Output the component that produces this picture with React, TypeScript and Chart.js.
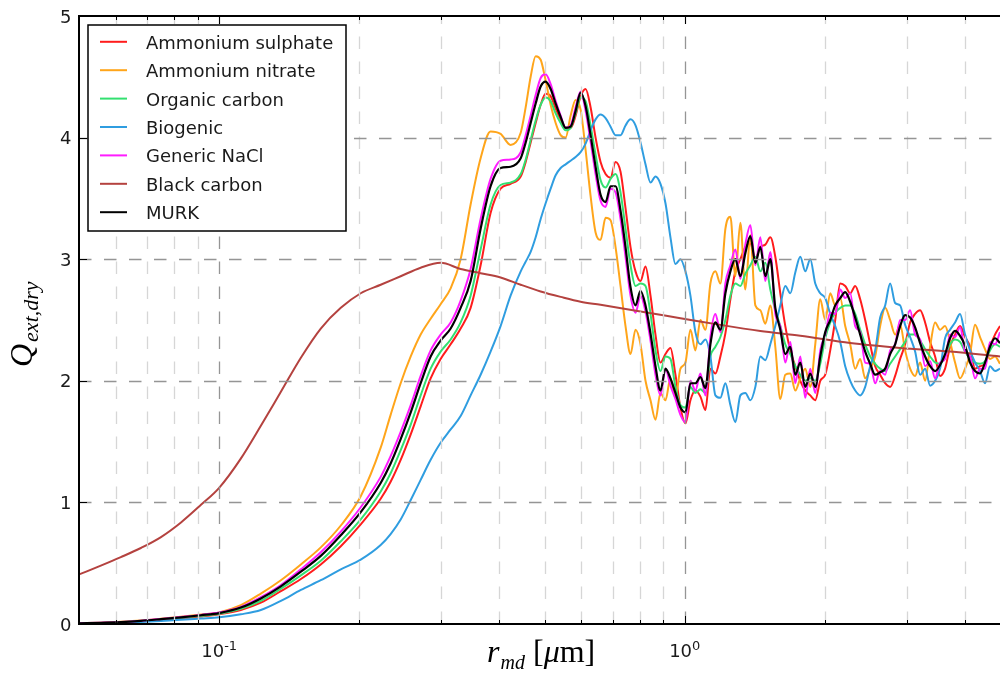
import React, { useEffect, useRef } from 'react';
import { Chart, registerables } from 'chart.js';

Chart.register(...registerables);

// radius grid (micrometres) shared by the aerosol curves
const radius = [
  0.0502, 0.0557, 0.0615, 0.0679, 0.075, 0.0828, 0.0914, 0.1,
  0.1113, 0.1229, 0.1357, 0.1498, 0.1653, 0.1825, 0.2014, 0.2223,
  0.2335, 0.2454, 0.2579, 0.2709, 0.2846, 0.299, 0.3142, 0.3301, 0.3468, 0.3644, 0.3828, 0.4022, 0.4226, 0.4443,
  0.4554, 0.4667, 0.4784, 0.4904, 0.5026, 0.5152, 0.5281, 0.5413, 0.5548, 0.5687, 0.5829, 0.5975, 0.6124, 0.6277, 0.6434, 0.6595,
  0.676, 0.6929, 0.7102, 0.7279, 0.7461, 0.7648, 0.7839, 0.8035, 0.8236, 0.8442, 0.8653, 0.8869, 0.9091, 0.9318, 0.9551, 0.979, 1.0035, 1.0285, 1.0542, 1.0806,
  1.1076, 1.1353, 1.1637, 1.1928, 1.2226, 1.2532, 1.2845, 1.3166, 1.3495, 1.3833, 1.4179, 1.4533, 1.4896, 1.5269, 1.565, 1.6042, 1.6443, 1.6854, 1.7275, 1.7707,
  1.815, 1.8604, 1.9069, 1.9546, 2.0034, 2.0535, 2.1049, 2.1575, 2.2114, 2.2667, 2.3234, 2.3815, 2.441, 2.502, 2.5646, 2.6287, 2.6944, 2.7618, 2.8308, 2.9016,
  2.9741, 3.0485, 3.1247, 3.2028, 3.2829, 3.365, 3.4491, 3.5353, 3.6237, 3.7143, 3.8072, 3.9023, 3.9999, 4.0999, 4.2024, 4.3075, 4.4152, 4.5255, 4.6387, 4.7547,
];

const sulphate = [
  0.005, 0.008, 0.014, 0.022, 0.034, 0.047, 0.062, 0.08,
  0.115, 0.175, 0.27, 0.37, 0.49, 0.64, 0.82, 1.03,
  1.17, 1.35, 1.56, 1.79, 2.02, 2.18, 2.3, 2.43, 2.6, 2.95, 3.38, 3.58, 3.62, 3.68,
  3.8, 3.96, 4.12, 4.27, 4.36, 4.34, 4.24, 4.15, 4.08, 4.08, 4.18, 4.34, 4.4, 4.25, 4.0, 3.8,
  3.7, 3.67, 3.8, 3.72, 3.42, 3.1, 2.9, 2.82, 2.94, 2.7, 2.38, 2.15, 2.22, 2.27, 2.05, 1.78, 1.65, 1.84, 1.92, 1.87,
  1.76, 2.1, 2.06, 2.2, 2.39, 2.67, 2.9, 3.0, 3.1, 3.13, 3.0, 3.1, 3.12, 3.18, 3.02, 2.72, 2.45, 2.25, 2.12, 2.0,
  1.92, 1.88, 1.84, 2.0, 2.05, 2.25, 2.5, 2.8, 2.78, 2.72, 2.78, 2.67, 2.5, 2.3, 2.12, 2.05, 1.98, 1.95, 2.04, 2.18,
  2.3, 2.48, 2.55, 2.58, 2.48, 2.32, 2.2, 2.04, 2.1, 2.28, 2.38, 2.45, 2.36, 2.28, 2.1, 2.12, 2.14, 2.28, 2.38, 2.45,
];

const nitrate = [
  0.006, 0.011, 0.018, 0.028, 0.043, 0.06, 0.078, 0.095,
  0.155, 0.25, 0.36, 0.49, 0.63, 0.81, 1.05, 1.45,
  1.72, 1.98, 2.2, 2.38, 2.51, 2.63, 2.76, 3.0, 3.45, 3.83, 4.05, 4.03, 3.94, 4.04,
  4.25, 4.5, 4.67, 4.64, 4.47, 4.27, 4.12, 4.02, 4.0, 4.18, 4.31, 4.23, 3.9, 3.52, 3.22, 3.16,
  3.34, 3.32, 3.1, 2.78, 2.45, 2.22, 2.42, 2.3, 2.0, 1.84, 1.68, 1.9, 1.84, 2.02, 1.86, 2.1, 2.15, 2.42, 2.25, 2.5,
  2.42, 2.8, 2.9, 2.8, 3.25, 3.35, 2.86, 3.3, 2.75, 3.2, 2.62, 2.58, 2.47, 2.62, 2.28, 1.85, 2.05, 2.06, 1.92, 2.02,
  2.1, 1.95, 2.3, 2.67, 2.5, 2.72, 2.62, 2.68, 2.45, 2.3, 2.1, 2.18, 2.02, 2.1, 2.2, 2.45, 2.6, 2.5, 2.38, 2.46,
  2.25, 2.1, 2.04, 2.15, 2.0, 2.28, 2.48, 2.42, 2.45, 2.32, 2.15, 2.02, 2.1, 2.22, 2.46, 2.36, 2.26, 2.18, 2.2, 2.14,
];

const organic = [
  0.005, 0.009, 0.015, 0.024, 0.037, 0.051, 0.067, 0.085,
  0.125, 0.19, 0.29, 0.4, 0.52, 0.68, 0.86, 1.09,
  1.24, 1.43, 1.64, 1.88, 2.1, 2.24, 2.34, 2.48, 2.7, 3.08, 3.45, 3.61, 3.63, 3.7,
  3.82, 3.98, 4.14, 4.27, 4.33, 4.3, 4.2, 4.12, 4.06, 4.08, 4.2, 4.33, 4.3, 4.1, 3.86, 3.65,
  3.59, 3.66, 3.7, 3.55, 3.25, 2.95, 2.78, 2.8, 2.78, 2.55, 2.25, 2.08, 2.2, 2.18, 1.95, 1.8, 1.78, 1.95, 1.9, 1.93,
  1.9, 2.2, 2.28, 2.36, 2.5, 2.7, 2.8, 2.78, 2.88, 2.95, 3.02, 2.9, 2.97, 2.75, 2.58, 2.45, 2.3, 2.22, 2.12, 2.05,
  2.0, 2.02, 2.0, 2.14, 2.35, 2.48, 2.56, 2.6, 2.62, 2.62, 2.55, 2.42, 2.3, 2.2, 2.14, 2.1, 2.08, 2.14, 2.2, 2.26,
  2.32, 2.38, 2.38, 2.33, 2.26, 2.2, 2.15, 2.14, 2.2, 2.3, 2.34, 2.32, 2.24, 2.18, 2.15, 2.14, 2.16, 2.25, 2.3, 2.28,
];

const biogenic = [
  0.004, 0.007, 0.011, 0.017, 0.025, 0.034, 0.045, 0.055,
  0.08, 0.115, 0.19, 0.28, 0.36, 0.45, 0.53, 0.65,
  0.74, 0.86, 1.02, 1.185, 1.35, 1.49, 1.6, 1.71, 1.88, 2.05, 2.24, 2.45, 2.7, 2.9,
  2.98, 3.06, 3.18, 3.33, 3.46, 3.58, 3.69, 3.75, 3.78, 3.81, 3.84, 3.88, 3.95, 4.06, 4.15, 4.19,
  4.16, 4.09, 4.02, 4.02, 4.1, 4.15, 4.1, 3.96, 3.78, 3.63, 3.68, 3.62, 3.46, 3.18, 2.96, 3.0, 2.9, 2.7, 2.4, 2.3,
  2.34, 2.2, 1.88, 1.86, 1.98, 1.8, 1.66, 1.88, 1.9, 1.84, 1.95, 2.2, 2.17, 2.3, 2.45, 2.62, 2.78, 2.72, 2.89, 3.02,
  2.9, 3.0, 2.8, 2.72, 2.68, 2.55, 2.45, 2.32, 2.12, 2.0, 1.92, 1.88, 1.95, 2.12, 2.25, 2.52, 2.62, 2.8, 2.64, 2.62,
  2.46, 2.36, 2.24, 2.05, 2.1, 1.96, 2.0, 2.1, 2.35, 2.42, 2.48, 2.55, 2.38, 2.25, 2.15, 2.08, 1.98, 2.12, 2.08, 2.1,
];

const nacl = [
  0.006, 0.011, 0.017, 0.027, 0.042, 0.058, 0.075, 0.094,
  0.14, 0.22, 0.32, 0.45, 0.59, 0.76, 0.96, 1.21,
  1.38, 1.58, 1.8, 2.04, 2.25, 2.38, 2.48, 2.66, 2.92, 3.33, 3.66, 3.81, 3.82, 3.88,
  4.02, 4.18, 4.35, 4.49, 4.52, 4.44, 4.3, 4.18, 4.08, 4.1, 4.25, 4.38, 4.22, 3.97, 3.7, 3.48,
  3.43, 3.58, 3.55, 3.33, 3.02, 2.7, 2.56, 2.7, 2.57, 2.33, 2.05, 1.88, 2.1, 1.96, 1.85, 1.72, 1.66, 2.0, 1.92, 2.06,
  1.88, 2.36, 2.55, 2.4, 2.8, 2.95, 3.08, 2.84, 3.12, 3.28, 2.95, 3.18, 2.82, 3.06, 2.55, 2.45, 2.15, 2.32, 1.98, 2.2,
  1.86, 2.1, 1.9, 2.25, 2.38, 2.56, 2.55, 2.75, 2.68, 2.72, 2.45, 2.4, 2.15, 2.14, 1.98, 2.08, 2.05, 2.25, 2.3, 2.5,
  2.5, 2.58, 2.38, 2.34, 2.12, 2.16, 2.02, 2.15, 2.18, 2.38, 2.36, 2.44, 2.24, 2.2, 2.02, 2.1, 2.1, 2.32, 2.3, 2.4,
];

const murk = [
  0.006, 0.01, 0.016, 0.026, 0.04, 0.055, 0.072, 0.09,
  0.135, 0.21, 0.31, 0.43, 0.56, 0.73, 0.92, 1.16,
  1.32, 1.52, 1.74, 1.98, 2.2, 2.33, 2.43, 2.6, 2.82, 3.25, 3.6, 3.75, 3.76, 3.83,
  3.96, 4.12, 4.28, 4.42, 4.46, 4.4, 4.28, 4.17, 4.08, 4.09, 4.22, 4.37, 4.26, 4.02, 3.76, 3.53,
  3.47, 3.6, 3.6, 3.4, 3.1, 2.77, 2.62, 2.74, 2.62, 2.39, 2.12, 1.92, 2.1, 2.02, 1.9, 1.78, 1.74, 1.98, 1.98, 2.03,
  1.94, 2.3, 2.48, 2.42, 2.72, 2.9, 3.0, 2.86, 3.05, 3.19, 2.97, 3.1, 2.86, 3.0, 2.6, 2.42, 2.22, 2.28, 2.05, 2.15,
  1.95, 2.06, 1.95, 2.2, 2.4, 2.5, 2.62, 2.68, 2.73, 2.65, 2.52, 2.38, 2.24, 2.14, 2.05, 2.07, 2.1, 2.22, 2.3, 2.45,
  2.54, 2.52, 2.44, 2.31, 2.2, 2.12, 2.08, 2.13, 2.22, 2.35, 2.41, 2.37, 2.29, 2.15, 2.08, 2.06, 2.15, 2.28, 2.35, 2.31,
];

// black carbon has its own, sparser radius grid
const bcRadius = [
  0.0502, 0.0557, 0.0615, 0.0679, 0.075, 0.0828, 0.0914, 0.1, 0.1113, 0.1229, 0.1357, 0.1498,
  0.1653, 0.1825, 0.2014, 0.2223, 0.2454, 0.2709, 0.299, 0.3301, 0.3644, 0.4022, 0.4443, 0.4904,
  0.5413, 0.5975, 0.6595, 0.8035, 0.979, 1.1928, 1.4533, 1.7707, 2.2667, 2.9016, 3.7143, 4.7547,
];
const blackCarbon = [
  0.41, 0.48, 0.55, 0.625, 0.715, 0.835, 0.98, 1.12, 1.36, 1.63, 1.91, 2.19,
  2.43, 2.6, 2.72, 2.79, 2.86, 2.93, 2.97, 2.92, 2.885, 2.85, 2.79, 2.735,
  2.69, 2.65, 2.625, 2.57, 2.515, 2.46, 2.41, 2.37, 2.31, 2.27, 2.24, 2.2,
];

const seriesNames = ['Ammonium sulphate', 'Ammonium nitrate', 'Organic carbon', 'Biogenic', 'Generic NaCl', 'Black carbon', 'MURK'];
const seriesColors = ['#ff1c1c', '#ffa51a', '#33e070', '#2f9de0', '#ff1cff', '#b4423f', '#000000'];

const xMinorTicks = [0.06, 0.07, 0.08, 0.09, 0.2, 0.3, 0.4, 0.5, 0.6, 0.7, 0.8, 0.9, 2, 3, 4];
const xMajorTicks = [0.1, 1];
const xMajorLabels = [['10', '-1'], ['10', '0']];
const yTicks = [0, 1, 2, 3, 4, 5];
const X_MIN = 0.05;
const X_MAX = 4.7547;

function line(ctx: CanvasRenderingContext2D, x1: number, y1: number, x2: number, y2: number) {
  ctx.beginPath();
  ctx.moveTo(x1, y1);
  ctx.lineTo(x2, y2);
  ctx.stroke();
}

const decorPlugin = {
  id: 'decor',
  afterDatasetsDraw(chart: any) {
    const { ctx, chartArea: a, scales } = chart;
    const xs = scales.x;
    const ys = scales.y;
    ctx.save();

    // dashed grid
    ctx.lineWidth = 1.3;
    ctx.setLineDash([12.5, 12.5]);
    ctx.strokeStyle = '#d6d6d6';
    for (const v of xMinorTicks) {
      const px = Math.round(xs.getPixelForValue(v)) + 0.5;
      line(ctx, px, a.bottom, px, a.top);
    }
    ctx.strokeStyle = '#959595';
    for (const v of xMajorTicks) {
      const px = Math.round(xs.getPixelForValue(v)) + 0.5;
      line(ctx, px, a.bottom, px, a.top);
    }
    for (const v of yTicks.slice(1, -1)) {
      const py = Math.round(ys.getPixelForValue(v)) + 0.5;
      line(ctx, a.left, py, a.right, py);
    }
    ctx.setLineDash([]);

    // inward tick marks
    ctx.strokeStyle = '#000';
    ctx.lineWidth = 1;
    for (const v of xMinorTicks) {
      const px = Math.round(xs.getPixelForValue(v)) + 0.5;
      line(ctx, px, a.bottom, px, a.bottom - 4);
      line(ctx, px, a.top, px, a.top + 4);
    }
    for (const v of xMajorTicks) {
      const px = Math.round(xs.getPixelForValue(v)) + 0.5;
      line(ctx, px, a.bottom, px, a.bottom - 8);
      line(ctx, px, a.top, px, a.top + 8);
    }
    for (const v of yTicks) {
      const py = Math.round(ys.getPixelForValue(v)) + 0.5;
      line(ctx, a.left, py, a.left + 8, py);
    }

    // spines
    ctx.lineWidth = 2;
    line(ctx, a.left, a.top, a.right + 2, a.top);
    line(ctx, a.left, a.bottom, a.right + 2, a.bottom);
    line(ctx, a.left, a.top - 1, a.left, a.bottom + 1);

    // tick labels
    ctx.fillStyle = '#1a1a1a';
    ctx.font = '18px "DejaVu Sans"';
    ctx.textBaseline = 'alphabetic';
    ctx.textAlign = 'right';
    for (const v of yTicks) {
      const py = ys.getPixelForValue(v);
      ctx.fillText(String(v), a.left - 7.5, py + 6.5);
    }
    ctx.textAlign = 'left';
    xMajorTicks.forEach((v, i) => {
      const [base, sup] = xMajorLabels[i];
      ctx.font = '18px "DejaVu Sans"';
      const wb = ctx.measureText(base).width;
      ctx.font = '13px "DejaVu Sans"';
      const ws = ctx.measureText(sup).width;
      const cx = xs.getPixelForValue(v);
      const x0 = cx - (wb + ws) / 2;
      ctx.font = '18px "DejaVu Sans"';
      ctx.fillText(base, x0, a.bottom + 33);
      ctx.font = '13px "DejaVu Sans"';
      ctx.fillText(sup, x0 + wb, a.bottom + 26);
    });

    // x axis title: r_md [μm]
    ctx.fillStyle = '#000';
    let x = 487;
    const by = 662;
    ctx.font = 'italic 32px "Liberation Serif"';
    ctx.fillText('r', x, by);
    x += ctx.measureText('r').width + 1;
    ctx.font = 'italic 20px "Liberation Serif"';
    ctx.fillText('md', x, by + 7);
    x = 533;
    ctx.font = '32px "Liberation Serif"';
    ctx.fillText('[', x, by);
    x += ctx.measureText('[').width;
    ctx.font = 'italic 32px "Liberation Serif"';
    ctx.fillText('μ', x, by);
    x += ctx.measureText('μ').width;
    ctx.font = '32px "Liberation Serif"';
    ctx.fillText('m]', x, by);

    // y axis title: Q_ext,dry (rotated)
    ctx.save();
    ctx.translate(32, 367);
    ctx.rotate(-Math.PI / 2);
    ctx.font = 'italic 32px "Liberation Serif"';
    ctx.fillText('Q', 0, 0);
    const wq = ctx.measureText('Q').width;
    ctx.font = 'italic 22px "Liberation Serif"';
    ctx.fillText('ext,dry', wq + 2, 6);
    ctx.restore();

    // legend
    const lx = 88, ly = 25, lw = 258, lh = 206;
    ctx.fillStyle = '#fff';
    ctx.fillRect(lx, ly, lw, lh);
    ctx.strokeStyle = '#000';
    ctx.lineWidth = 1.5;
    ctx.strokeRect(lx, ly, lw, lh);
    ctx.font = '18px "DejaVu Sans"';
    seriesNames.forEach((name, i) => {
      const yy = 41.8 + i * 28.4;
      ctx.strokeStyle = seriesColors[i];
      ctx.lineWidth = 2;
      line(ctx, 100, yy, 127, yy);
      ctx.fillStyle = '#1a1a1a';
      ctx.fillText(name, 146, yy + 7);
    });

    ctx.restore();
  },
};

export default function App() {
  const ref = useRef<HTMLCanvasElement>(null);

  useEffect(() => {
    if (!ref.current) return;
    const seriesValues = [sulphate, nitrate, organic, biogenic, nacl, blackCarbon, murk];
    const datasets = seriesValues.map((vals, i) => {
      const xsArr = vals === blackCarbon ? bcRadius : radius;
      return {
        label: seriesNames[i],
        data: vals.map((y, j) => ({ x: xsArr[j], y })),
        borderColor: seriesColors[i],
        backgroundColor: seriesColors[i],
        borderWidth: i === 6 ? 2.2 : 2,
        pointRadius: 0,
        fill: false,
        cubicInterpolationMode: 'monotone' as const,
        order: seriesValues.length - 1 - i,
      };
    });

    const chart = new Chart(ref.current, {
      type: 'line',
      data: { datasets },
      options: {
        animation: false,
        responsive: false,
        devicePixelRatio: 1,
        events: [],
        layout: { padding: { top: 16, right: 0, bottom: 0, left: 0 } },
        plugins: { legend: { display: false }, tooltip: { enabled: false } },
        scales: {
          x: {
            type: 'logarithmic',
            min: X_MIN,
            max: X_MAX,
            grid: { display: false },
            border: { display: false },
            ticks: { display: false },
            afterBuildTicks: (s: any) => {
              s.ticks = [...xMinorTicks, ...xMajorTicks].sort((p, q) => p - q).map((v) => ({ value: v }));
            },
            afterFit: (s: any) => {
              s.height = 52;
            },
          },
          y: {
            type: 'linear',
            min: 0,
            max: 5,
            grid: { display: false },
            border: { display: false },
            ticks: { display: false, stepSize: 1 },
            afterFit: (s: any) => {
              s.width = 79;
            },
          },
        },
      },
      plugins: [decorPlugin],
    });
    return () => chart.destroy();
  }, []);

  return (
    <div style={{ position: 'absolute', left: 0, top: 0, width: 1000, height: 676, background: '#fff', overflow: 'hidden' }}>
      <canvas ref={ref} width={1000} height={676} style={{ display: 'block', width: 1000, height: 676 }} />
    </div>
  );
}
